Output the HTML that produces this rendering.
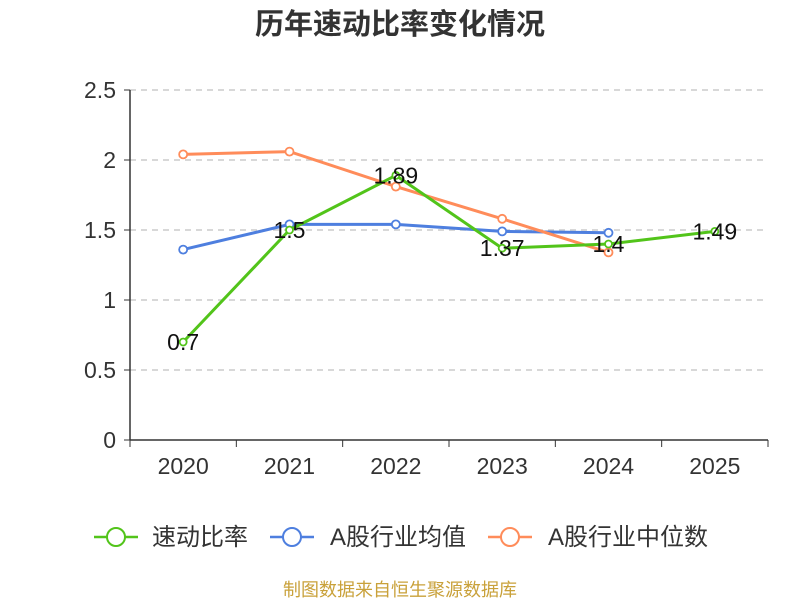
<!DOCTYPE html>
<html><head><meta charset="utf-8"><style>
body{margin:0;background:#fff;}
svg text{font-family:"Liberation Sans","Noto Sans CJK SC",sans-serif;}
</style></head><body>
<svg id="c" width="800" height="600">
<text x="400" y="34" text-anchor="middle" font-size="29" font-weight="bold" fill="#333">历年速动比率变化情况</text>
<g id="grid"></g><g id="axes"></g><g id="series"></g><g id="labels"></g>
<g>
<g><line x1="94" y1="537" x2="138" y2="537" stroke="#52c41a" stroke-width="2.5"/><circle cx="116" cy="537" r="9" fill="#fff" stroke="#52c41a" stroke-width="2"/><text x="152" y="545" font-size="24" fill="#333">速动比率</text></g>
<g><line x1="270" y1="537" x2="314" y2="537" stroke="#4e7fdf" stroke-width="2.5"/><circle cx="292" cy="537" r="9" fill="#fff" stroke="#4e7fdf" stroke-width="2"/><text x="330" y="545" font-size="24" fill="#333">A股行业均值</text></g>
<g><line x1="488" y1="537" x2="532" y2="537" stroke="#ff8c5a" stroke-width="2.5"/><circle cx="510" cy="537" r="9" fill="#fff" stroke="#ff8c5a" stroke-width="2"/><text x="548" y="545" font-size="24" fill="#333">A股行业中位数</text></g>
</g>
<text x="400" y="596" text-anchor="middle" font-size="18" fill="#c9a13a">制图数据来自恒生聚源数据库</text>
</svg>
<script>
const categories=["2020","2021","2022","2023","2024","2025"];
const quickRatio=[0.7,1.5,1.89,1.37,1.4,1.49];
const industryMean=[1.36,1.54,1.54,1.49,1.48];
const industryMedian=[2.04,2.06,1.81,1.58,1.34];
const yTicks=[0,0.5,1,1.5,2,2.5];
const NS="http://www.w3.org/2000/svg";
const x0=130,x1=768,y0=440,yTop=90;
const bw=(x1-x0)/categories.length;
const X=i=>x0+bw*(i+0.5);
const Y=v=>y0-(v/2.5)*(y0-yTop);
function mk(tag,attrs,parent){const e=document.createElementNS(NS,tag);for(const k in attrs)e.setAttribute(k,attrs[k]);parent.appendChild(e);return e;}
const grid=document.getElementById('grid'),axes=document.getElementById('axes'),ser=document.getElementById('series'),lab=document.getElementById('labels');
yTicks.forEach(t=>{
 if(t>0){const l=mk('line',{x1:x0,x2:x1,y1:Y(t),y2:Y(t),stroke:'#ccc','stroke-dasharray':'6,5','stroke-width':1.5},grid);
 
 }
 const tk=mk('line',{x1:x0-6,x2:x0,y1:Y(t),y2:Y(t),stroke:'#333'},axes);
 
 
 const tx=mk('text',{x:x0-14,y:Y(t)+8,'text-anchor':'end','font-size':23,fill:'#333'},axes);tx.textContent=t;
 
 
});
let ya=mk('line',{x1:x0,x2:x0,y1:yTop,y2:y0,stroke:'#333','stroke-width':1.5},axes);


let xa=mk('line',{x1:x0,x2:x1,y1:y0,y2:y0,stroke:'#333','stroke-width':1.5},axes);


for(let i=0;i<=categories.length;i++){const t=mk('line',{x1:x0+bw*i,x2:x0+bw*i,y1:y0,y2:y0+7,stroke:'#333'},axes);
 
 }
categories.forEach((c,i)=>{const t=mk('text',{x:X(i),y:y0+34,'text-anchor':'middle','font-size':23,fill:'#333'},axes);t.textContent=c;
 
 });
function series(vals,color,name,r){
 const g=mk('g',{},ser);
 
 
 const p=mk('polyline',{points:vals.map((v,i)=>X(i)+','+Y(v)).join(' '),fill:'none',stroke:color,'stroke-width':3},g);
 
 
 vals.forEach((v,i)=>{const c=mk('circle',{cx:X(i),cy:Y(v),r:r,fill:'#fff',stroke:color,'stroke-width':1.8},g);
  
  });
}
series(industryMean,'#4e7fdf','industry-mean',4);
series(industryMedian,'#ff8c5a','industry-median',4);
series(quickRatio,'#52c41a','quick-ratio',3.5);
quickRatio.forEach((v,i)=>{const t=mk('text',{x:X(i),y:Y(v)+8,'text-anchor':'middle','font-size':23,fill:'#111'},lab);t.textContent=v;
 
 });
</script>
</body></html>
